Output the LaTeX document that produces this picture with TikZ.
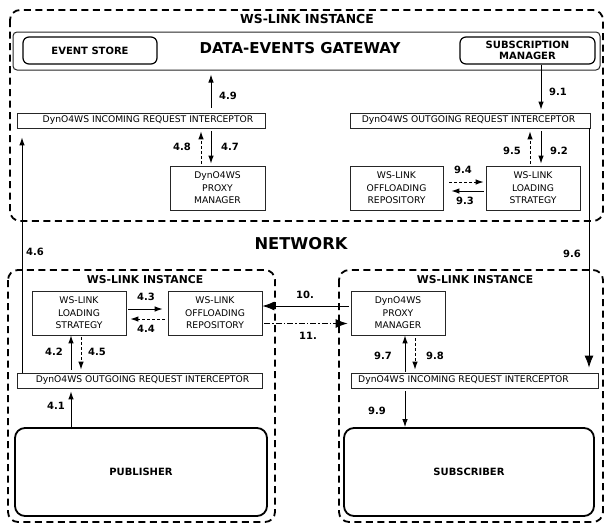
\documentclass[tikz,border=0pt]{standalone}
\usepackage{fontspec}
\setmainfont{DejaVu Sans}
\usetikzlibrary{arrows.meta}
\begin{document}
\begin{tikzpicture}[x=1pt,y=-1pt,
  box/.style={draw=black!85, line width=0.8pt, inner sep=0pt, align=center,
    font=\fontsize{9.2}{12.5}\selectfont},
  txt/.style={inner sep=0pt, font=\fontsize{9.2}{12.5}\selectfont},
  bbox/.style={draw=black, inner sep=0pt, align=center,
    font=\bfseries\fontsize{10}{12}\selectfont},
  lbl/.style={inner sep=0pt, font=\bfseries\fontsize{10}{12}\selectfont},
  ttl/.style={inner sep=0pt, font=\bfseries\fontsize{10.8}{13}\selectfont},
  arr/.style={-{Latex[length=8pt,width=5.5pt]}, line width=0.9pt},
  bigarr/.style={-{Latex[length=12pt,width=9pt]}, line width=0.9pt},
  dsh/.style={dash pattern=on 3pt off 2pt},
  dbox/.style={draw, line width=1.8pt, dash pattern=on 7pt off 4.5pt, rounded corners=10pt}
]
\useasboundingbox (0,0) rectangle (605,525);

% dashed containers
\draw[dbox] (10,10) rectangle (603,221);
\draw[dbox] (8,270) rectangle (275,522);
\draw[dbox] (339,270) rectangle (603,522);

% titles
\node[inner sep=0pt, font=\bfseries\fontsize{12.4}{14}\selectfont] (t1) at (307,19) {WS-LINK INSTANCE};
\node[ttl] (t2) at (145,280) {WS-LINK INSTANCE};
\node[ttl] (t3) at (475,280) {WS-LINK INSTANCE};
\node[inner sep=0pt, font=\bfseries\fontsize{16.3}{18}\selectfont] (net) at (301,244) {NETWORK};

% gateway
\node[draw=black!85, line width=1pt, rounded corners=4pt, minimum width=587pt, minimum height=38pt] (gw) at (306.5,51) {};
\node[inner sep=0pt, font=\bfseries\fontsize{15}{17}\selectfont] (gwt) at (300,48) {DATA-EVENTS GATEWAY};
\node[bbox, line width=1.2pt, rounded corners=6pt, minimum width=134pt, minimum height=27pt] (es) at (90,50.5) {EVENT STORE};
\node[bbox, line width=1.2pt, rounded corners=6pt, minimum width=135pt, minimum height=27pt, font=\bfseries\fontsize{10}{11.5}\selectfont] (sm) at (527.5,50.5) {SUBSCRIPTION\\MANAGER};

% top instance
\node[box, minimum width=248pt, minimum height=15pt] (inTL) at (141,120.5) {};
\node[txt] (inTLt) at ([xshift=7pt]inTL.center) {DynO4WS INCOMING REQUEST INTERCEPTOR};
\node[box, minimum width=95pt, minimum height=44pt] (pmTL) at (217.5,188) {DynO4WS\\PROXY\\MANAGER};
\node[box, minimum width=240pt, minimum height=15pt] (outTR) at (470,120.5) {};
\node[txt] (outTRt) at ([xshift=-1.5pt]outTR.center) {DynO4WS OUTGOING REQUEST INTERCEPTOR};
\node[box, minimum width=94pt, minimum height=44pt] (lsTR) at (533,188) {WS-LINK\\LOADING\\STRATEGY};
\node[box, minimum width=93pt, minimum height=44pt] (orTR) at (396.5,188) {WS-LINK\\OFFLOADING\\REPOSITORY};

% bottom-left instance
\node[box, minimum width=94pt, minimum height=44pt] (lsBL) at (79,313) {WS-LINK\\LOADING\\STRATEGY};
\node[box, minimum width=94pt, minimum height=44pt] (orBL) at (215,313) {WS-LINK\\OFFLOADING\\REPOSITORY};
\node[box, minimum width=245pt, minimum height=15pt] (outBL) at (139.5,380.5) {};
\node[txt] (outBLt) at ([xshift=3pt]outBL.center) {DynO4WS OUTGOING REQUEST INTERCEPTOR};
\node[bbox, line width=1.8pt, rounded corners=10pt, minimum width=252pt, minimum height=88pt] (pub) at (141,472) {PUBLISHER};

% bottom-right instance
\node[box, minimum width=94pt, minimum height=44pt] (pmBR) at (398,313) {DynO4WS\\PROXY\\MANAGER};
\node[box, minimum width=247pt, minimum height=15pt] (inBR) at (474.5,380.5) {};
\node[txt] (inBRt) at ([xshift=-11pt]inBR.center) {DynO4WS INCOMING REQUEST INTERCEPTOR};
\node[bbox, line width=1.8pt, rounded corners=10pt, minimum width=250pt, minimum height=88pt] (sub) at (469,472) {SUBSCRIBER};

% helper coordinates
\coordinate (x22) at (22,0);
\coordinate (x71) at (71,0);
\coordinate (x81) at (81,0);
\coordinate (x201) at (201,0);
\coordinate (x211) at (211,0);
\coordinate (x530) at (530,0);
\coordinate (x541) at (541,0);
\coordinate (x589) at (589,0);
\coordinate (x405) at (405,0);
\coordinate (x415) at (415,0);
\coordinate (y182) at (0,182);
\coordinate (y191) at (0,191);
\coordinate (y309) at (0,309);
\coordinate (y319) at (0,319);
\coordinate (y306) at (0,306);
\coordinate (y323) at (0,323.5);

% top connectors
\draw[arr, shorten <=5pt, shorten >=4pt] (inTL.north -| x211) -- (gw.south -| x211);
\draw[arr, shorten <=3pt, shorten >=2pt] (inTL.south -| x211) -- (pmTL.north -| x211);
\draw[arr, dsh, shorten <=2pt, shorten >=3pt] (pmTL.north -| x201) -- (inTL.south -| x201);
\draw[arr, shorten >=3pt] (sm.south -| x541) -- (outTR.north -| x541);
\draw[arr, shorten <=3pt, shorten >=2pt] (outTR.south -| x541) -- (lsTR.north -| x541);
\draw[arr, dsh, shorten <=2pt, shorten >=3pt] (lsTR.north -| x530) -- (outTR.south -| x530);
\draw[arr, dsh, shorten <=6pt, shorten >=2pt] (orTR.east |- y182) -- (lsTR.west |- y182);
\draw[arr, shorten <=2pt, shorten >=8pt] (lsTR.west |- y191) -- (orTR.east |- y191);

% long connectors
\draw[arr] (outBL.north -| x22) -- ([yshift=-9pt]inTL.south -| x22);
\draw[bigarr, shorten >=5pt] (outTR.south -| x589) -- (inBR.north -| x589);

% bottom-left connectors
\draw[arr, shorten <=2pt, shorten >=5pt] (lsBL.east |- y309) -- (orBL.west |- y309);
\draw[arr, dsh, shorten <=3pt, shorten >=4pt] (orBL.west |- y319) -- (lsBL.east |- y319);
\draw[arr, shorten <=3pt] (outBL.north -| x71) -- (lsBL.south -| x71);
\draw[arr, dsh, shorten <=2pt, shorten >=3pt] (lsBL.south -| x81) -- (outBL.north -| x81);
\draw[arr, shorten >=3pt] (pub.north -| x71) -- (outBL.south -| x71);

% network connectors
\draw[bigarr, shorten <=2pt] (pmBR.west |- y306) -- (orBL.east |- y306);
\draw[bigarr, dash pattern=on 6pt off 2pt on 1.5pt off 2pt, shorten <=2pt, shorten >=3pt] (orBL.east |- y323) -- (pmBR.west |- y323);

% bottom-right connectors
\draw[arr, shorten <=1pt] (inBR.north -| x405) -- (pmBR.south -| x405);
\draw[arr, dsh, shorten <=3pt, shorten >=3pt] (pmBR.south -| x415) -- (inBR.north -| x415);
\draw[arr, shorten <=3pt] (inBR.south -| x405) -- (sub.north -| x405);

% labels
\node[lbl] (l49) at (228,96) {4.9};
\node[lbl] (l48) at (182,147) {4.8};
\node[lbl] (l47) at (230,147) {4.7};
\node[lbl] (l46) at (35,252) {4.6};
\node[lbl] (l91) at (558,92) {9.1};
\node[lbl] (l95) at (512,151) {9.5};
\node[lbl] (l92) at (559,151) {9.2};
\node[lbl] (l94) at (463,170) {9.4};
\node[lbl] (l93) at (465,201) {9.3};
\node[lbl] (l96) at (572,254) {9.6};
\node[lbl] (l43) at (146,297) {4.3};
\node[lbl] (l44) at (146,329) {4.4};
\node[lbl] (l42) at (54,352) {4.2};
\node[lbl] (l45) at (97,352) {4.5};
\node[lbl] (l41) at (56,406) {4.1};
\node[lbl] (l10) at (305,295) {10.};
\node[lbl] (l11) at (308,336) {11.};
\node[lbl] (l97) at (383,356) {9.7};
\node[lbl] (l98) at (435,356) {9.8};
\node[lbl] (l99) at (377,411) {9.9};
\end{tikzpicture}
\end{document}
